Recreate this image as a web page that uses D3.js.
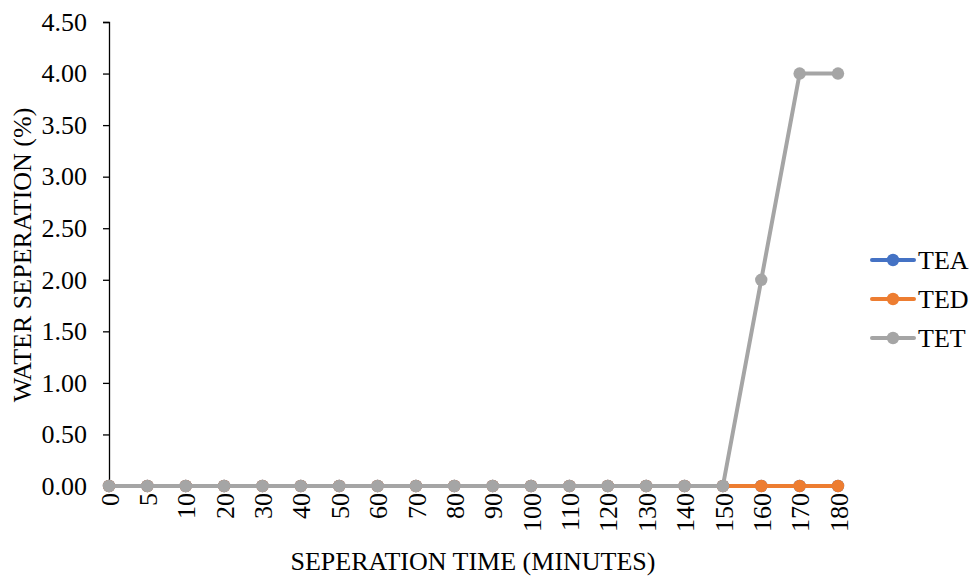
<!DOCTYPE html>
<html>
<head>
<meta charset="utf-8">
<script src="https://cdn.jsdelivr.net/npm/d3@7"></script>
<style>
  html, body { margin: 0; padding: 0; background: #fff; }
  svg { display: block; font-family: "Liberation Serif", "Times New Roman", serif; }
</style>
</head>
<body>
<svg id="chart" width="971" height="576"></svg>
<script>
// Separation time (minutes) on the category axis
const times = ["0","5","10","20","30","40","50","60","70","80","90","100","110","120","130","140","150","160","170","180"];
// Water separation (%) for each formulation
const tea = [0,0,0,0,0,0,0,0,0,0,0,0,0,0,0,0,0,0,0,0];
const ted = [0,0,0,0,0,0,0,0,0,0,0,0,0,0,0,0,0,0,0,0];
const tet = [0,0,0,0,0,0,0,0,0,0,0,0,0,0,0,0,0,2,4,4];
const yTicks = [0,0.5,1,1.5,2,2.5,3,3.5,4,4.5];

const series = [
  { name: "TEA", values: tea, color: "#4472C4" },
  { name: "TED", values: ted, color: "#ED7D31" },
  { name: "TET", values: tet, color: "#A5A5A5" }
];

const FONT = 26;
const svg = d3.select("#chart");
const plotLeft = 109, plotRight = 838, plotTop = 22, plotBottom = 486;

const x = d3.scalePoint().domain(times).range([plotLeft, plotRight]);
const y = d3.scaleLinear().domain([0, 4.5]).range([plotBottom, plotTop]);

// Y axis
const yAxis = svg.append("g")
  .attr("transform", `translate(${plotLeft},0)`)
  .call(d3.axisLeft(y).tickValues(yTicks).tickFormat(d3.format(".2f")).tickSize(6).tickPadding(16));
yAxis.select(".domain").attr("stroke", "#000").attr("stroke-width", 1.3);
yAxis.selectAll(".tick line").attr("stroke", "#000").attr("stroke-width", 1.3);
yAxis.selectAll(".tick text").attr("font-size", FONT).attr("fill", "#000")
  .attr("font-family", "Liberation Serif, Times New Roman, serif");

// X axis (category labels rotated)
const xAxis = svg.append("g")
  .attr("transform", `translate(0,${plotBottom})`)
  .call(d3.axisBottom(x).tickSize(5).tickPadding(7));
xAxis.select(".domain").attr("stroke", "#000").attr("stroke-width", 1.3);
xAxis.selectAll(".tick line").attr("stroke", "#000").attr("stroke-width", 1.3);
xAxis.selectAll(".tick text")
  .attr("font-size", FONT).attr("fill", "#000")
  .attr("font-family", "Liberation Serif, Times New Roman, serif")
  .attr("transform", "rotate(-90)")
  .attr("text-anchor", "end")
  .attr("x", -7).attr("y", 0).attr("dy", "0.35em");

// Series lines and markers
const line = d3.line().x((d, i) => x(times[i])).y(d => y(d));
series.forEach(s => {
  const g = svg.append("g");
  g.append("path").datum(s.values)
    .attr("d", line).attr("fill", "none")
    .attr("stroke", s.color).attr("stroke-width", 4).attr("stroke-linejoin", "round");
  g.selectAll("circle").data(s.values).join("circle")
    .attr("cx", (d, i) => x(times[i])).attr("cy", d => y(d))
    .attr("r", 6.2).attr("fill", s.color);
});

// Legend
const legend = svg.append("g");
series.forEach((s, i) => {
  const ly = 260 + i * 39;
  legend.append("line").attr("x1", 872).attr("x2", 914).attr("y1", ly).attr("y2", ly)
    .attr("stroke", s.color).attr("stroke-width", 4).attr("stroke-linecap", "round");
  legend.append("circle").attr("cx", 893).attr("cy", ly).attr("r", 6.2).attr("fill", s.color);
  legend.append("text").attr("x", 918).attr("y", ly).attr("dy", "0.35em")
    .attr("font-size", FONT).attr("fill", "#000").text(s.name);
});

// Axis titles
svg.append("text").attr("x", 473).attr("y", 570).attr("text-anchor", "middle")
  .attr("font-size", FONT).attr("fill", "#000").text("SEPERATION TIME (MINUTES)");
svg.append("text").attr("transform", "translate(31,255) rotate(-90)").attr("text-anchor", "middle")
  .attr("font-size", FONT).attr("fill", "#000").text("WATER SEPERATION (%)");
</script>
</body>
</html>
